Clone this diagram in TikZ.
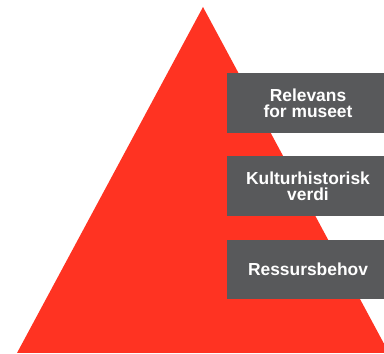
\documentclass[tikz,border=0pt]{standalone}
\usepackage{fontspec}
\setmainfont{Liberation Sans}
\definecolor{pyrred}{RGB}{255,51,34}
\definecolor{tiergray}{RGB}{88,89,91}
\tikzset{
  tier/.style={rectangle, fill=tiergray, text=white, align=center,
    minimum width=162pt, minimum height=60pt, inner sep=0pt,
    font=\bfseries\fontsize{17.4}{16}\selectfont}
}
\begin{document}
\begin{tikzpicture}[x=1pt,y=1pt]
  \useasboundingbox (0,0) rectangle (384,354);
  % the pyramid
  \fill[pyrred] (17,1) -- (203,347) -- (389,1) -- cycle;
  % the three levels, from top to bottom
  \node[tier] (relevans) at (308,251) {Relevans\\for museet};
  \node[tier] (verdi) at (308,168) {Kulturhistorisk\\verdi};
  \node[tier, minimum height=59pt] (ressurs) at (308,84.5) {Ressursbehov};
\end{tikzpicture}
\end{document}
